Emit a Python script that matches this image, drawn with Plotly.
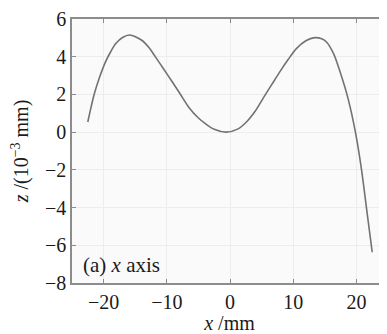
import plotly.graph_objects as go

x_mm = [-22.5, -22.0, -21.5, -20.6, -19.7, -18.9, -18.1, -17.0, -15.9, -14.9, -13.9, -12.8, -11.8,
        -10.5, -9.2, -7.8, -6.5, -5.0, -3.9, -2.5, -0.6, 1.2, 2.6, 4.0, 5.3, 6.6, 7.9, 9.2, 10.5,
        12.0, 13.4, 14.5, 15.3, 16.4, 17.4, 18.7, 19.9, 20.8, 21.6, 22.5]
z_um = [0.54, 1.3, 2.0, 2.95, 3.73, 4.25, 4.69, 5.02, 5.15, 5.05, 4.86, 4.47, 3.99,
        3.35, 2.70, 1.98, 1.31, 0.75, 0.45, 0.15, 0.0, 0.16, 0.54, 1.12, 1.83, 2.52, 3.21, 3.85, 4.43,
        4.85, 5.01, 4.95, 4.77, 4.15, 3.21, 1.75, -0.1, -1.97, -4.04, -6.37]

x_ticks = [-20, -10, 0, 10, 20]
y_ticks = [6, 4, 2, 0, -2, -4, -6, -8]

FONT = "Liberation Serif, Times New Roman, serif"

fig = go.Figure()
fig.add_trace(go.Scatter(x=x_mm, y=z_um, mode="lines",
                         line=dict(color="#727272", width=1.6, shape="spline", smoothing=0.9),
                         showlegend=False, hoverinfo="skip"))

fig.add_annotation(x=0.03, y=0.015, xref="paper", yref="paper", xanchor="left", yanchor="bottom",
                   text="(a) <i>x</i> axis", showarrow=False,
                   font=dict(family=FONT, size=21, color="#1a1a1a"))

# page body has an 8px margin, so the figure is offset by 8px
fig.update_layout(
    width=379, height=326,
    margin=dict(l=64, r=0, t=5, b=51),
    paper_bgcolor="white", plot_bgcolor="#fafafa",
    font=dict(family=FONT, size=20, color="#1a1a1a"),
    xaxis=dict(range=[-25, 24.84], tickvals=x_ticks, ticktext=[str(v).replace("-", "−") for v in x_ticks],
               showgrid=True, gridcolor="#ededed", gridwidth=1, zeroline=False,
               showline=True, linecolor="#8c8c8c", linewidth=1.5, mirror="ticks",
               ticks="inside", ticklen=4, tickcolor="#8c8c8c", ticklabeloverflow="allow",
               tickfont=dict(family=FONT, size=20),
               title=dict(text="<i>x</i> /mm", standoff=0, font=dict(family=FONT, size=20))),
    yaxis=dict(range=[-8, 6], tickvals=y_ticks, ticktext=[str(v).replace("-", "−") for v in y_ticks],
               showgrid=True, gridcolor="#ededed", gridwidth=1, zeroline=False,
               showline=True, linecolor="#8c8c8c", linewidth=1.5,
               ticks="inside", ticklen=4, tickcolor="#8c8c8c", ticklabeloverflow="allow",
               tickfont=dict(family=FONT, size=20),
               title=dict(text="<i>z</i> /(10<sup>−3</sup> mm)", standoff=14, font=dict(family=FONT, size=20))),
)

fig.write_html("out.html")
